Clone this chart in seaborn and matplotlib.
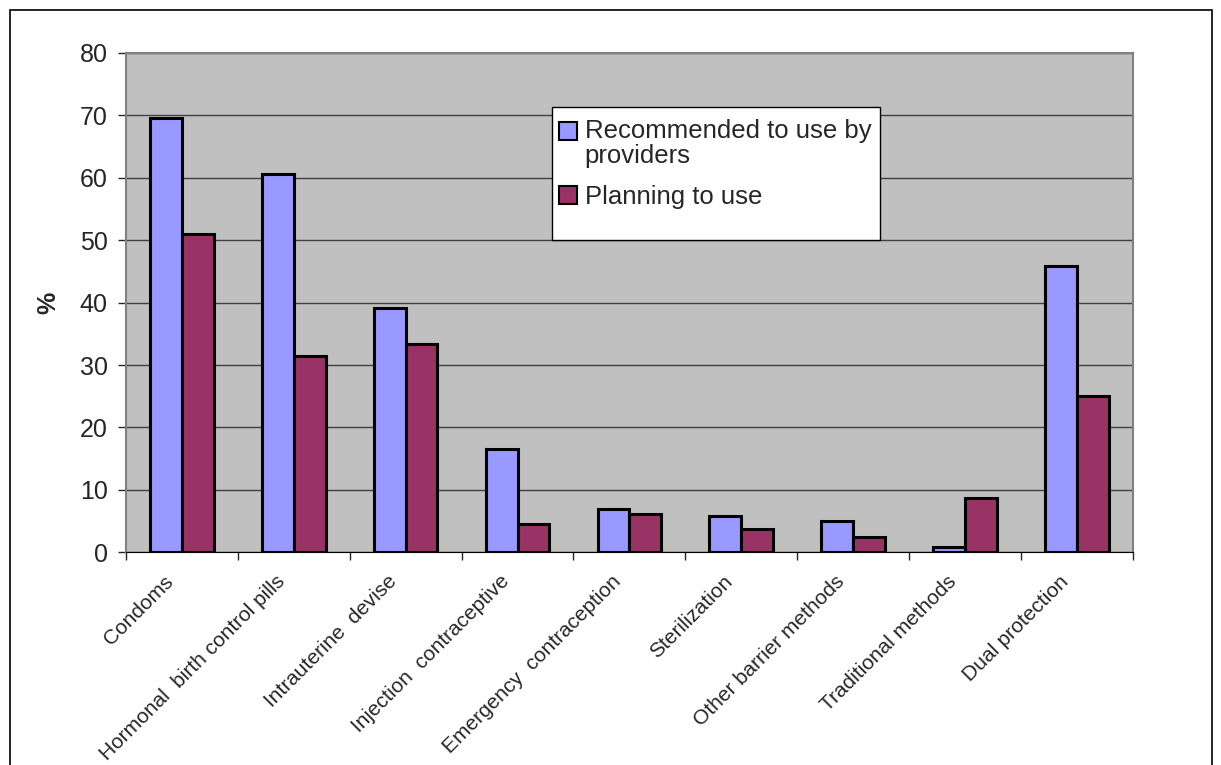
import pandas as pd
import seaborn as sns
import matplotlib.pyplot as plt
import matplotlib.transforms as mtransforms
from matplotlib.patches import Rectangle, Patch

categories = [
    "Condoms",
    "Hormonal  birth control pills",
    "Intrauterine  devise",
    "Injection  contraceptive",
    "Emergency  contraception",
    "Sterilization",
    "Other barrier methods",
    "Traditional methods",
    "Dual protection",
]
recommended = [69.6, 60.6, 39.1, 16.5, 6.9, 5.8, 5.0, 0.8, 45.9]
planning = [51.0, 31.4, 33.3, 4.5, 6.1, 3.7, 2.5, 8.7, 25.1]
series_names = ["Recommended to use by\nproviders", "Planning to use"]
yticks = [0, 10, 20, 30, 40, 50, 60, 70, 80]

df = pd.DataFrame({
    "category": categories * 2,
    "value": recommended + planning,
    "series": [series_names[0]] * len(categories) + [series_names[1]] * len(categories),
})

sns.set_style("white")
plt.rcParams["font.family"] = ["Liberation Sans", "DejaVu Sans"]

fig = plt.figure(figsize=(12.21, 7.65), dpi=100)
ax = fig.add_axes([0.103, 0.278, 0.825, 0.653])

palette = {series_names[0]: "#9999FF", series_names[1]: "#993366"}
sns.barplot(
    data=df, x="category", y="value", hue="series",
    palette=palette, width=0.57, saturation=1,
    edgecolor="black", linewidth=2.2, ax=ax, legend=False,
)

ax.set_facecolor("#C0C0C0")
ax.set_ylim(0, 80)
ax.set_xlim(-0.5, len(categories) - 0.5)
ax.set_yticks(yticks)
ax.tick_params(axis="y", labelsize=18, length=6, width=1, direction="out", left=True, pad=7)
ax.yaxis.grid(True, color="#404040", linewidth=1)
ax.set_axisbelow(True)

# x ticks sit between the categories
ax.set_xticks(range(len(categories)))
ax.set_xticklabels(categories, rotation=45, ha="right", rotation_mode="anchor", fontsize=15)
ax.set_xticks([i - 0.5 for i in range(len(categories) + 1)], minor=True)
ax.tick_params(axis="x", which="major", length=0, pad=14)
ax.tick_params(axis="x", which="minor", length=6, width=1, direction="out", bottom=True)
shift = mtransforms.ScaledTranslation(-18 / 100, 0, fig.dpi_scale_trans)
for lab in ax.get_xticklabels():
    lab.set_transform(lab.get_transform() + shift)

ax.set_xlabel("")
ax.set_ylabel("%", fontsize=18, fontweight="bold", labelpad=14)

for s in ["top", "right", "left"]:
    ax.spines[s].set_color("#808080")
    ax.spines[s].set_linewidth(1.5)
ax.spines["bottom"].set_color("black")

# white legend box, taller than its entries as in the original
ax.add_patch(Rectangle((0.423, 0.625), 0.749 - 0.423, 0.892 - 0.625, transform=ax.transAxes,
                       facecolor="white", edgecolor="black", linewidth=1, zorder=5))
handles = [Patch(facecolor=palette[n], edgecolor="black", linewidth=1.5) for n in series_names]
leg = ax.legend(
    handles, series_names, loc="upper left", bbox_to_anchor=(0.428, 0.872),
    fontsize=18.5, frameon=False,
    handlelength=0.68, handleheight=0.68, handletextpad=0.3, borderpad=0.1,
    labelspacing=0.65, borderaxespad=0,
)
leg.set_zorder(6)
for t in leg.get_texts():
    t.set_linespacing(1.05)
# put the first square next to the first line of its label
h0 = leg.legend_handles[0]
h0.set_y(h0.get_y() + 0.5 * 1.05 * 18.5)

fig.add_artist(Rectangle((10 / 1221, -0.02), 1202 / 1221, 755 / 765 + 0.02,
                         transform=fig.transFigure, fill=False, edgecolor="black", linewidth=1.2))

fig.savefig("out.png", dpi=100)
